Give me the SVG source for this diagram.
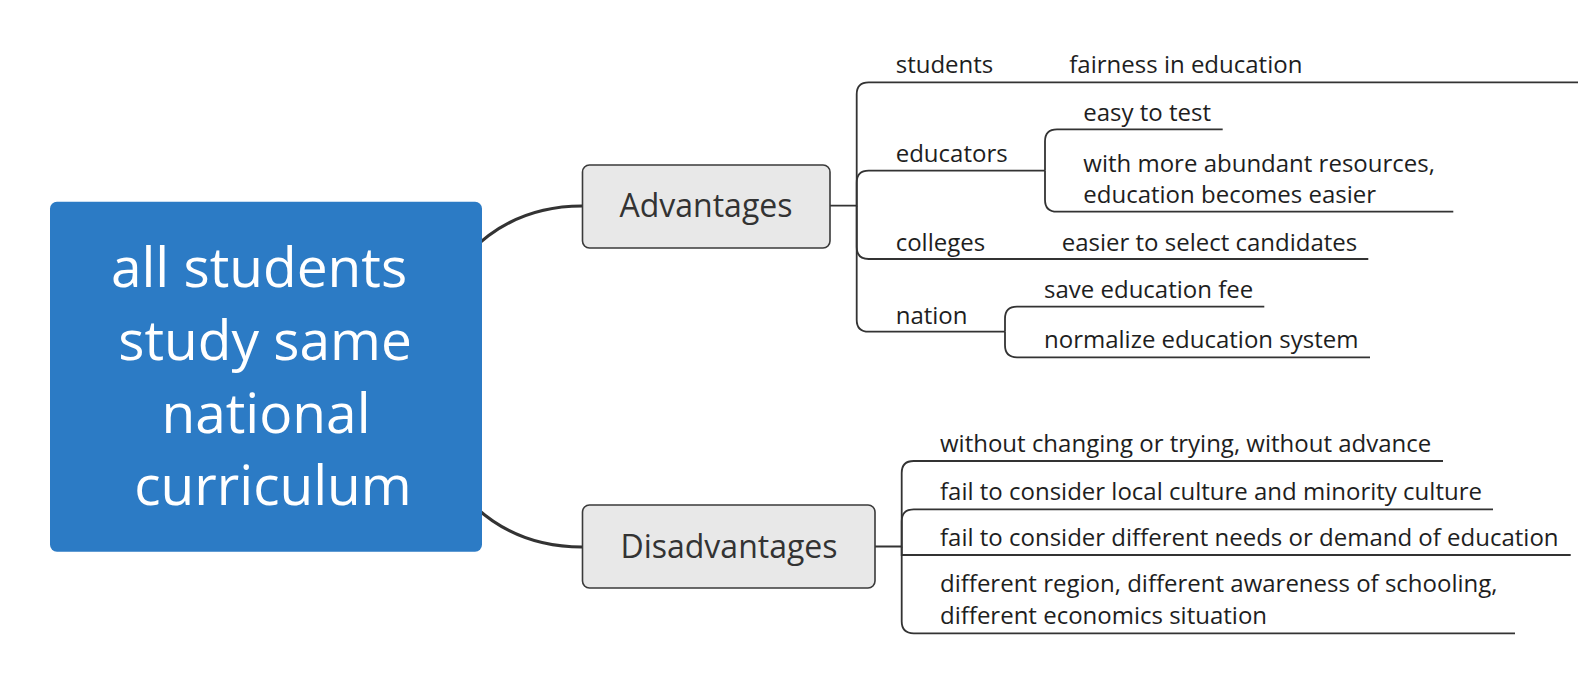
<svg xmlns="http://www.w3.org/2000/svg" width="1578" height="686" viewBox="0 0 1578 686">
<style>
  .t { font-family: "Open Sans", "Noto Sans", "Liberation Sans", sans-serif; font-size: 24px; fill: #1e1e1e; }
  .main { font-family: "Open Sans", "Noto Sans", "Liberation Sans", sans-serif; font-size: 55px; fill: #ffffff; text-anchor: middle; }
  .topic { font-family: "Open Sans", "Noto Sans", "Liberation Sans", sans-serif; font-size: 32px; fill: #333333; text-anchor: middle; }
  .box { fill: #e8e8e8; stroke: #3a3a3a; stroke-width: 1.6; }
  .thick { fill: none; stroke: #333333; stroke-width: 3.2; }
  .thin { fill: none; stroke: #333333; stroke-width: 1.8; }
</style>
<rect width="1578" height="686" fill="#ffffff"/>
<g id="connectors">
  <path class="thick" d="M 470,252 Q 515,206 582,206"/>
  <path class="thick" d="M 470,502 Q 515,547 582,547"/>
  <path class="thin" d="M 830,205.7 H 856.7 V 94.3 Q 856.7,82.3 868.7,82.3 H 1578"/>
  <path class="thin" d="M 856.7,205.7 V 182.7 Q 856.7,170.7 868.7,170.7 H 1045"/>
  <path class="thin" d="M 856.7,205.7 V 247 Q 856.7,259 868.7,259 H 1368.3"/>
  <path class="thin" d="M 856.7,205.7 V 319.7 Q 856.7,331.7 868.7,331.7 H 1005"/>
  <path class="thin" d="M 1045,170.7 V 141.3 Q 1045,129.3 1057,129.3 H 1222.7"/>
  <path class="thin" d="M 1045,170.7 V 199.7 Q 1045,211.7 1057,211.7 H 1453.3"/>
  <path class="thin" d="M 1005,331.7 V 318.7 Q 1005,306.7 1017,306.7 H 1264.3"/>
  <path class="thin" d="M 1005,331.7 V 345.3 Q 1005,357.3 1017,357.3 H 1370"/>
  <path class="thin" d="M 875,546.5 H 901.7 V 473 Q 901.7,461 913.7,461 H 1443"/>
  <path class="thin" d="M 901.7,546.5 V 521.3 Q 901.7,509.3 913.7,509.3 H 1493"/>
  <path class="thin" d="M 901.7,546.5 V 555 H 1570.7"/>
  <path class="thin" d="M 901.7,546.5 V 621.3 Q 901.7,633.3 913.7,633.3 H 1515"/>
</g>
<g id="central">
  <rect x="50" y="201.7" width="432" height="350" rx="7" fill="#2c7bc5"/>
  <text class="main" x="259" y="286.7">all students</text>
  <text class="main" x="265" y="359.5">study same</text>
  <text class="main" x="266" y="432.5">national</text>
  <text class="main" x="273" y="505">curriculum</text>
</g>
<g id="advantages">
  <rect class="box" x="582.5" y="165" width="247.5" height="83" rx="7"/>
  <text class="topic" x="706" y="217">Advantages</text>
</g>
<g id="disadvantages">
  <rect class="box" x="582.5" y="505" width="292.5" height="83" rx="7"/>
  <text class="topic" x="729" y="558">Disadvantages</text>
</g>
<g id="students"><text class="t" x="895.7" y="73.3">students</text></g>
<g id="fairness"><text class="t" x="1069.3" y="73.3">fairness in education</text></g>
<g id="educators"><text class="t" x="895.7" y="161.7">educators</text></g>
<g id="easy-test"><text class="t" x="1083.3" y="121">easy to test</text></g>
<g id="resources"><text class="t" x="1083.3" y="171.7">with more abundant resources,</text><text class="t" x="1083.3" y="203.3">education becomes easier</text></g>
<g id="colleges"><text class="t" x="895.7" y="250.7">colleges</text></g>
<g id="candidates"><text class="t" x="1061.7" y="250.7">easier to select candidates</text></g>
<g id="nation"><text class="t" x="895.7" y="324">nation</text></g>
<g id="fee"><text class="t" x="1044" y="297.7">save education fee</text></g>
<g id="normalize"><text class="t" x="1044" y="348.3">normalize education system</text></g>
<g id="d1"><text class="t" x="940" y="452">without changing or trying, without advance</text></g>
<g id="d2"><text class="t" x="940" y="500.3">fail to consider local culture and minority culture</text></g>
<g id="d3"><text class="t" x="940" y="546">fail to consider different needs or demand of education</text></g>
<g id="d4"><text class="t" x="940" y="592.3">different region, different awareness of schooling,</text><text class="t" x="940" y="624">different economics situation</text></g>
</svg>
